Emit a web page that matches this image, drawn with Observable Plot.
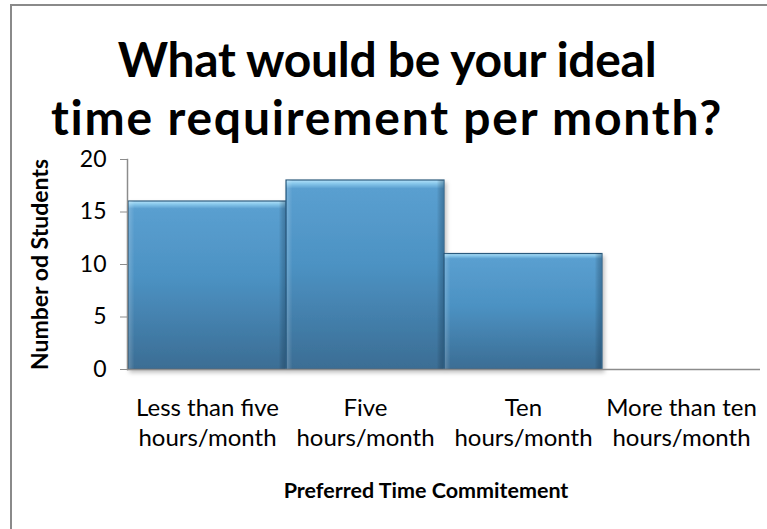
<!DOCTYPE html>
<html>
<head>
<meta charset="utf-8">
<script src="https://cdn.jsdelivr.net/npm/d3@7"></script>
<script src="https://cdn.jsdelivr.net/npm/@observablehq/plot@0.6"></script>
<style>
  html, body { margin: 0; padding: 0; background: #fff; }
  #wrap { position: relative; width: 767px; height: 529px; overflow: hidden; }
  #border { position: absolute; left: 10px; top: 4px; width: 800px; height: 600px;
            border-top: 2px solid #8a8a8a; border-left: 2px solid #8a8a8a; pointer-events: none; }
  svg { font-family: Lato, "Open Sans", sans-serif; }
</style>
</head>
<body>
<div id="wrap"><div id="border"></div></div>
<script>
const categories = ["Less than five hours/month", "Five hours/month", "Ten hours/month", "More than ten hours/month"];
const tickLabels = ["Less than five\nhours/month", "Five\nhours/month", "Ten\nhours/month", "More than ten\nhours/month"];
const students = [16, 18, 11, 0];
const yTicks = [0, 5, 10, 15, 20];
const titleLines = ["What would be your ideal", "time requirement per month?"];
const xTitle = "Preferred Time Commitement";
const yTitle = "Number od Students";

const data = categories.map((c, i) => ({category: c, value: students[i]}));
const labelOf = new Map(categories.map((c, i) => [c, tickLabels[i]]));
const shown = data.filter(d => d.value > 0);

const plot = Plot.plot({
  width: 767,
  height: 529,
  marginTop: 159,
  marginBottom: 160,
  marginLeft: 127,
  marginRight: 7,
  style: {fontFamily: "Lato, 'Open Sans', sans-serif", color: "#000", background: "transparent"},
  x: {domain: categories, padding: 0, label: null},
  y: {domain: [0, 20], label: null},
  marks: [
    Plot.barY(shown, {x: "category", y: "value", fill: "url(#barGrad)", stroke: "#2c5a7d", strokeWidth: 1.2}),
    Plot.barY(shown, {x: "category", y: "value", fill: "url(#sideGrad)", insetLeft: 1, insetRight: 1}),
    Plot.ruleY([0], {stroke: "#8c8c8c", strokeWidth: 1.5}),
    Plot.frame({anchor: "left", stroke: "#8c8c8c", strokeWidth: 1.5}),
    Plot.axisY({ticks: yTicks, tickSize: 7, tickPadding: 14, stroke: "#8c8c8c", fontSize: 23, fill: "#000", label: null}),
    Plot.axisX({tickSize: 0, tickPadding: 25, fontSize: 24, lineHeight: 1.25, fill: "#000",
                tickFormat: d => labelOf.get(d), label: null}),
    Plot.text([titleLines[0]], {text: d => d, frameAnchor: "top", dx: -57, dy: -117,
               fontSize: 48, fontWeight: "bold", fill: "#000"}),
    Plot.text([titleLines[1]], {text: d => d, frameAnchor: "top", dx: -57, dy: -59,
               fontSize: 48, fontWeight: "bold", fill: "#000"}),
    Plot.text([yTitle], {text: d => d, frameAnchor: "left", textAnchor: "middle", rotate: -90, dx: -87,
               fontSize: 23, fontWeight: "bold", fill: "#000"}),
    Plot.text([xTitle], {text: d => d, frameAnchor: "bottom", dx: -18, dy: 128,
               fontSize: 21.5, fontWeight: "bold", fill: "#000"})
  ]
});

const svg = d3.select(plot);
svg.insert("defs", ":first-child").html(`
  <linearGradient id="barGrad" x1="0" y1="0" x2="0" y2="1">
    <stop offset="0" stop-color="#b4e2fa"/>
    <stop offset="0.02" stop-color="#86c6ea"/>
    <stop offset="0.045" stop-color="#5a9fd0"/>
    <stop offset="0.45" stop-color="#4c92c3"/>
    <stop offset="1" stop-color="#3b6d94"/>
  </linearGradient>
  <linearGradient id="sideGrad" x1="0" y1="0" x2="1" y2="0">
    <stop offset="0" stop-color="#ffffff" stop-opacity="0.18"/>
    <stop offset="0.035" stop-color="#ffffff" stop-opacity="0"/>
    <stop offset="0.96" stop-color="#000000" stop-opacity="0"/>
    <stop offset="1" stop-color="#0b2a44" stop-opacity="0.3"/>
  </linearGradient>
  <filter id="shadow" x="-10%" y="-10%" width="130%" height="130%">
    <feDropShadow dx="2" dy="3" stdDeviation="2" flood-color="#000" flood-opacity="0.25"/>
  </filter>
`);
svg.select("g[aria-label='bar']").attr("filter", "url(#shadow)");
svg.selectAll("text").each(function() {
  const t = this.textContent;
  if (t === titleLines[0]) this.setAttribute("letter-spacing", "-0.3");
  if (t === titleLines[1]) this.setAttribute("letter-spacing", "1.8");
});

document.getElementById("wrap").appendChild(plot);
plot.style.position = "absolute";
plot.style.left = "0";
plot.style.top = "0";
</script>
</body>
</html>
